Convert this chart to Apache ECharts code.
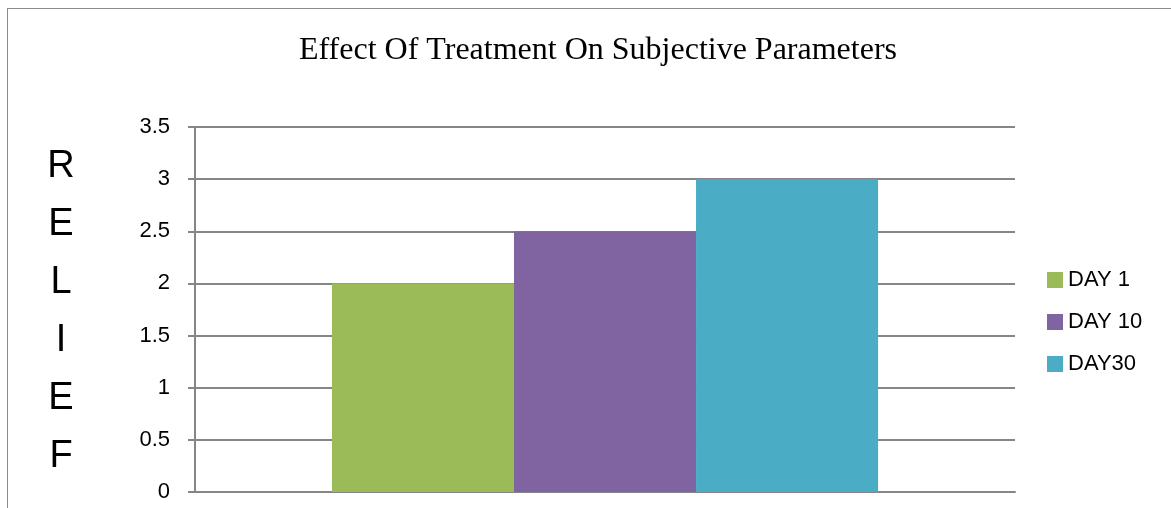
<!DOCTYPE html>
<html>
<head>
<meta charset="utf-8">
<script src="https://cdn.jsdelivr.net/npm/echarts@6/dist/echarts.min.js"></script>
<style>
html,body{margin:0;padding:0;background:#fff;overflow:hidden;}
#frame{position:absolute;left:7px;top:8px;width:1300px;height:700px;border:1.5px solid #8c8c8c;box-sizing:border-box;pointer-events:none;}
#chart{position:absolute;left:0;top:0;width:1171px;height:508px;}
</style>
</head>
<body>
<div id="chart"></div>
<div id="frame"></div>
<script>
var titleText = 'Effect Of Treatment On Subjective Parameters';
var categories = [''];
var seriesNames = ['DAY 1', 'DAY 10', 'DAY30'];
var day1 = [2];
var day10 = [2.5];
var day30 = [3];
var colors = ['#9BBB59', '#8064A2', '#4BACC6'];
var yLabel = 'R\nE\nL\nI\nE\nF';

var chart = echarts.init(document.getElementById('chart'));
var sans = 'Liberation Sans';
chart.setOption({
  animation: false,
  title: {
    text: titleText,
    left: 593,
    top: 46,
    textAlign: 'center',
    textVerticalAlign: 'middle',
    textStyle: {fontFamily: 'Liberation Serif', fontWeight: 'normal', fontSize: 32, color: '#000'}
  },
  graphic: [{
    type: 'text',
    x: 61, y: 312,
    style: {
      text: yLabel,
      fontFamily: sans, fontSize: 38, lineHeight: 58,
      fill: '#000', align: 'center', verticalAlign: 'middle'
    }
  }],
  legend: {
    orient: 'vertical',
    left: 1042,
    top: 264,
    itemWidth: 16,
    itemHeight: 16,
    itemGap: 20,
    icon: 'rect',
    textStyle: {fontFamily: sans, fontSize: 22, color: '#000'},
    data: seriesNames
  },
  grid: {left: 195, right: 156, top: 127, bottom: 16, containLabel: false},
  xAxis: {
    type: 'category',
    data: categories,
    axisLine: {lineStyle: {color: '#868686', width: 2}},
    axisTick: {show: false},
    axisLabel: {show: false}
  },
  yAxis: {
    type: 'value',
    min: 0, max: 3.5, interval: 0.5,
    axisLine: {show: true, lineStyle: {color: '#868686', width: 2}},
    axisTick: {show: true, length: 7, lineStyle: {color: '#868686', width: 2}},
    axisLabel: {fontFamily: sans, fontSize: 22, color: '#000', margin: 25},
    splitLine: {lineStyle: {color: '#868686', width: 2}}
  },
  series: [
    {name: seriesNames[0], type: 'bar', data: day1, itemStyle: {color: colors[0]}, barGap: '0%', barCategoryGap: '33.4%'},
    {name: seriesNames[1], type: 'bar', data: day10, itemStyle: {color: colors[1]}, barGap: '0%', barCategoryGap: '33.4%'},
    {name: seriesNames[2], type: 'bar', data: day30, itemStyle: {color: colors[2]}, barGap: '0%', barCategoryGap: '33.4%'}
  ]
});
</script>
</body>
</html>
